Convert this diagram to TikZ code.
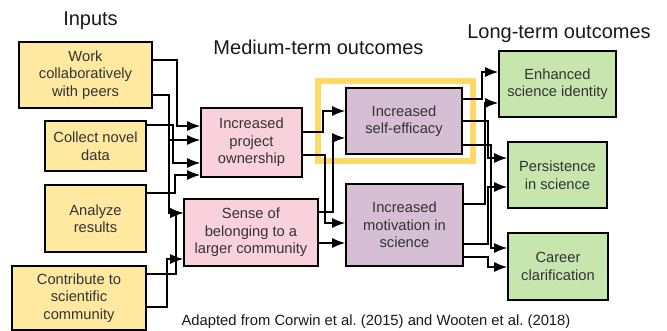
\documentclass[tikz,border=0pt]{standalone}
\usepackage{fontspec}
\setmainfont{Liberation Sans}
\usetikzlibrary{arrows.meta,positioning}

\definecolor{inputfill}{RGB}{255,232,160}
\definecolor{midfill}{RGB}{249,209,221}
\definecolor{outfill}{RGB}{214,190,213}
\definecolor{longfill}{RGB}{199,230,174}
\definecolor{glow}{RGB}{255,217,102}
\definecolor{boxtext}{RGB}{51,51,51}

\begin{document}
\begin{tikzpicture}[x=1pt,y=-1pt]
  \tikzset{
    box/.style={draw=black, line width=1.6pt, align=center, inner sep=2pt,
      text=boxtext, font=\fontsize{14.7}{17.5}\selectfont},
    input/.style={box, fill=inputfill},
    midterm/.style={box, fill=midfill},
    outcome/.style={box, fill=outfill},
    longterm/.style={box, fill=longfill},
    heading/.style={anchor=base, text=black!90, font=\fontsize{20}{24}\selectfont},
    myarrow/.style={-{Latex[length=13pt,width=10pt]}, line width=1.4pt},
  }
  \useasboundingbox (0,0) rectangle (667,331);

  \node[heading] (inputs) at (90.5,26) {Inputs};
  \node[heading] (midtitle) at (318.5,54.5) {Medium-term outcomes};
  \node[heading] (longtitle) at (559,39) {Long-term outcomes};

  \node[input, minimum width=133pt, minimum height=66pt] (work) at (85.5,75) {Work\\collaboratively\\with peers};
  \node[input, minimum width=101pt, minimum height=50pt] (collect) at (95.5,146) {Collect novel\\data};
  \node[input, minimum width=101pt, minimum height=67pt] (analyze) at (95.5,218.5) {Analyze\\results};
  \node[input, minimum width=134pt, minimum height=64pt] (contribute) at (79,298) {Contribute to\\scientific\\community};

  \node[midterm, minimum width=101pt, minimum height=69pt] (ownership) at (251.5,142.5) {Increased\\project\\ownership};
  \node[midterm, minimum width=134pt, minimum height=67pt] (belonging) at (251,232.5) {Sense of\\belonging to a\\larger community};

  \draw[glow, line width=6pt] (318,81) rectangle (473,161);
  \node[outcome, minimum width=116pt, minimum height=66pt] (efficacy) at (404,121) {Increased\\self-efficacy};
  \node[outcome, minimum width=117pt, minimum height=82pt] (motivation) at (404.5,225) {Increased\\motivation in\\science};

  \node[longterm, minimum width=117pt, minimum height=66pt] (identity) at (557.5,84) {Enhanced\\science identity};
  \node[longterm, minimum width=99pt, minimum height=66pt] (persistence) at (557.5,175) {Persistence\\in science};
  \node[longterm, minimum width=100pt, minimum height=67pt] (career) at (558,266.5) {Career\\clarification};

  \node[anchor=base, text=black!90, font=\fontsize{14.8}{17}\selectfont] (source) at (376,325.5)
    {Adapted from Corwin et al.\ (2015) and Wooten et al.\ (2018)};

  % inputs to medium-term outcomes
  \draw[myarrow] (work.east |- 0,60) -- ++(24,0) |- (ownership.west |- 0,126);
  \draw[myarrow] (work.east |- 0,95) -- ++(16,0) |- (ownership.west |- 0,140);
  \draw[myarrow] (work.east |- 0,95) -- ++(16,0) |- (belonging.west |- 0,213);
  \draw[myarrow] (collect.east |- 0,125) -- ++(26,0) |- (ownership.west |- 0,163);
  \draw[myarrow] (analyze.east |- 0,193) -- ++(28,0) |- (ownership.west |- 0,175);
  \draw[myarrow] (contribute.east |- 0,274) -- ++(29,0) |- (belonging.west |- 0,213);
  \draw[myarrow] (contribute.east |- 0,307) -- ++(20,0) |- (belonging.west |- 0,259);

  % medium-term among themselves
  \draw[myarrow] (ownership.east |- 0,132) -- ++(20,0) |- (efficacy.west |- 0,111);
  \draw[myarrow] (ownership.east |- 0,155) -- ++(22,0) |- (motivation.west |- 0,223);
  \draw[myarrow] (belonging.east |- 0,212) -- ++(14,0) |- (efficacy.west |- 0,138);
  \draw[myarrow] (belonging.east |- 0,243) -- (motivation.west |- 0,243);

  % to long-term outcomes
  \draw[myarrow] (efficacy.east |- 0,99) -- ++(19,0) |- (identity.west |- 0,72);
  \draw[myarrow] (efficacy.east |- 0,121) -- ++(25,0) |- (persistence.west |- 0,158);
  \draw[myarrow] (efficacy.east |- 0,145) -- ++(28,0) |- (career.west |- 0,248);
  \draw[myarrow] (motivation.east |- 0,204) -- ++(21,0) |- (identity.west |- 0,103);
  \draw[myarrow] (motivation.east |- 0,244) -- ++(24,0) |- (persistence.west |- 0,187);
  \draw[myarrow] (motivation.east |- 0,257) -- ++(24,0) |- (career.west |- 0,267);
\end{tikzpicture}
\end{document}
